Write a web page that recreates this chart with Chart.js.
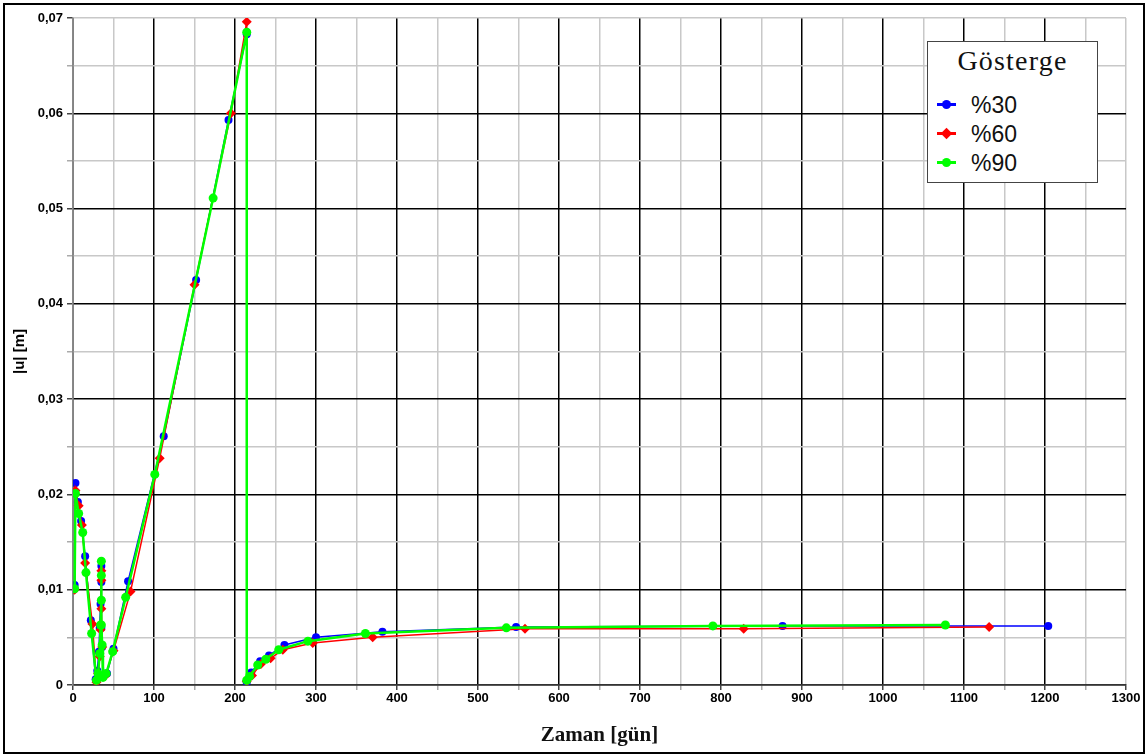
<!DOCTYPE html>
<html>
<head>
<meta charset="utf-8">
<script src="https://cdn.jsdelivr.net/npm/chart.js@4.4.0/dist/chart.umd.min.js"></script>
<style>
  html, body { margin: 0; padding: 0; background: #fff; }
  #wrap { position: relative; width: 1148px; height: 756px; overflow: hidden; }
  #frame { position: absolute; left: 3px; top: 3px; width: 1142px; height: 751px; box-sizing: border-box; border: 2px solid #000; pointer-events: none; }
  #legend { position: absolute; left: 927px; top: 41px; width: 171px; height: 142px; box-sizing: border-box; border: 1.5px solid #444; background: #fff; }
  #legend .ttl { position: absolute; left: 0; right: 0; top: 3px; text-align: center; font: 28px "Liberation Serif", serif; letter-spacing: 1.2px; line-height: 32px; color: #111; }
  #legend .row { position: absolute; left: 9px; height: 24px; line-height: 24px; font: 23px "Liberation Sans", Arial, sans-serif; color: #111; }
  #legend .ln { position: absolute; left: 0; top: 10.5px; width: 19px; height: 3px; }
  #legend .dot { position: absolute; left: 5px; top: 7.5px; width: 9px; height: 9px; border-radius: 50%; }
  #legend .dia { position: absolute; left: 5px; top: 7.5px; width: 9px; height: 9px; transform: rotate(45deg) scale(0.9); }
  #legend .txt { position: absolute; left: 34px; top: 0; white-space: nowrap; }
</style>
</head>
<body>
<div id="wrap">
  <canvas id="chart" width="1148" height="756"></canvas>
  <div id="frame"></div>
  <div id="legend">
    <div class="ttl">Gösterge</div>
    <div class="row" style="top:50px"><span class="ln" style="background:#0000ff"></span><span class="dot" style="background:#0000ff"></span><span class="txt">%30</span></div>
    <div class="row" style="top:79px"><span class="ln" style="background:#ff0000"></span><span class="dia" style="background:#ff0000"></span><span class="txt">%60</span></div>
    <div class="row" style="top:108px"><span class="ln" style="background:#00ff00"></span><span class="dot" style="background:#00ff00"></span><span class="txt">%90</span></div>
  </div>
</div>
<script>
const seriesNames = ["%30", "%60", "%90"];

// %30
const days30 = [2, 3, 6, 10, 15, 22, 28, 30, 32, 33, 34, 35, 35, 35, 36, 38, 42, 50, 68, 112, 152, 192, 214.5, 214.5, 220, 231, 242, 261, 300, 382, 547, 876, 1204];
const disp30 = [0.0105, 0.0212, 0.0192, 0.0172, 0.0135, 0.0068, 0.0006, 0.0015, 0.0035, 0.0060, 0.0085, 0.0125, 0.0108, 0.0060, 0.0040, 0.0010, 0.0012, 0.0038, 0.0109, 0.0261, 0.0425, 0.0593, 0.0683, 0.0003, 0.0013, 0.0025, 0.0031, 0.0042, 0.0050, 0.0056, 0.0061, 0.0062, 0.0062];

// %60
const days60 = [2, 3, 7, 11, 15, 24, 29, 31, 33, 34, 35, 35, 35, 36, 37, 40, 50, 71, 107, 150, 195, 214.5, 214.5, 221, 232, 244, 259, 296, 370, 558, 828, 1131];
const disp60 = [0.0100, 0.0204, 0.0188, 0.0168, 0.0128, 0.0064, 0.0003, 0.0012, 0.0030, 0.0058, 0.0120, 0.0110, 0.0080, 0.0040, 0.0009, 0.0010, 0.0036, 0.0098, 0.0238, 0.0420, 0.0600, 0.0696, 0.0004, 0.0010, 0.0022, 0.0028, 0.0037, 0.0044, 0.0050, 0.0059, 0.0059, 0.0061];

// %90
const days90 = [2, 3, 7, 12, 16, 23, 29, 31, 33, 34, 35, 35, 35, 35, 36, 37, 41, 49, 65, 101, 173, 214.5, 214.5, 218, 228, 238, 254, 290, 361, 535, 790, 1077];
const disp90 = [0.0101, 0.0201, 0.0180, 0.0160, 0.0118, 0.0054, 0.0005, 0.0012, 0.0033, 0.0063, 0.0089, 0.0130, 0.0115, 0.0063, 0.0042, 0.0008, 0.0012, 0.0035, 0.0092, 0.0221, 0.0511, 0.0685, 0.0005, 0.0009, 0.0021, 0.0027, 0.0037, 0.0046, 0.0054, 0.0060, 0.0062, 0.0063];

const xTickMax = 1300;
const yTickMax = 0.07;

const pts = (xs, ys) => xs.map((x, i) => ({ x, y: ys[i] }));

const tickFont = { family: "'Liberation Sans', Arial, sans-serif", size: 13, weight: "bold" };

const isMajorX = (v) => Math.round(v) % 100 === 0;
const isMajorY = (v) => Math.round(v * 1000) % 10 === 0;

new Chart(document.getElementById("chart").getContext("2d"), {
  type: "line",
  data: {
    datasets: [
      {
        label: seriesNames[0], data: pts(days30, disp30), order: 3,
        borderColor: "#0000ff", backgroundColor: "#0000ff", borderWidth: 1.5,
        pointStyle: "circle", pointRadius: 4, pointBorderWidth: 0,
      },
      {
        label: seriesNames[1], data: pts(days60, disp60), order: 2,
        borderColor: "#ff0000", backgroundColor: "#ff0000", borderWidth: 1.5,
        pointStyle: "rectRot", pointRadius: 5, pointBorderWidth: 0,
      },
      {
        label: seriesNames[2], data: pts(days90, disp90), order: 1,
        borderColor: "#00ff00", backgroundColor: "#00ff00", borderWidth: 2.5,
        pointStyle: "circle", pointRadius: 4.5, pointBorderWidth: 0,
      },
    ],
  },
  options: {
    responsive: false,
    animation: false,
    layout: { padding: { left: 0, top: 18, right: 22, bottom: 0 } },
    plugins: { legend: { display: false }, tooltip: { enabled: false } },
    elements: { line: { tension: 0, fill: false } },
    scales: {
      x: {
        type: "linear",
        min: 0,
        max: xTickMax,
        afterFit: (s) => { s.height = 71; },
        border: { color: "#333", width: 1.5 },
        grid: {
          lineWidth: 1.5,
          tickLength: 5,
          color: (c) => (c.tick && isMajorX(c.tick.value) && c.tick.value < xTickMax ? "#000" : "#c8c8c8"),
          tickColor: (c) => (c.tick && isMajorX(c.tick.value) ? "#444" : "#aaa"),
        },
        ticks: {
          stepSize: 50,
          padding: 1,
          autoSkip: false,
          maxRotation: 0,
          color: "#000",
          font: tickFont,
          callback: (v) => (isMajorX(v) ? String(Math.round(v)) : ""),
        },
        title: {
          display: true,
          text: "Zaman [gün]",
          color: "#111",
          font: { family: "'Liberation Serif', serif", size: 21, weight: "bold" },
          padding: { top: 0, bottom: 8 },
        },
      },
      y: {
        type: "linear",
        min: 0,
        max: yTickMax,
        afterFit: (s) => { s.width = 73; },
        border: { color: "#888", width: 1.5 },
        grid: {
          lineWidth: 1.5,
          tickLength: 6,
          color: (c) => (c.tick && isMajorY(c.tick.value) && c.tick.value < yTickMax - 1e-6 ? "#000" : "#c8c8c8"),
          tickColor: (c) => (c.tick && isMajorY(c.tick.value) ? "#444" : "#aaa"),
        },
        ticks: {
          stepSize: 0.005,
          padding: 4,
          autoSkip: false,
          color: "#000",
          font: tickFont,
          callback: (v) => {
            if (!isMajorY(v)) return "";
            const k = Math.round(v * 100);
            return k === 0 ? "0" : "0," + String(k).padStart(2, "0");
          },
        },
        title: {
          display: true,
          text: "|u| [m]",
          color: "#000",
          font: { family: "'Liberation Sans', Arial, sans-serif", size: 15, weight: "bold" },
          padding: { top: 11, bottom: 0 },
        },
      },
    },
  },
});
</script>
</body>
</html>
